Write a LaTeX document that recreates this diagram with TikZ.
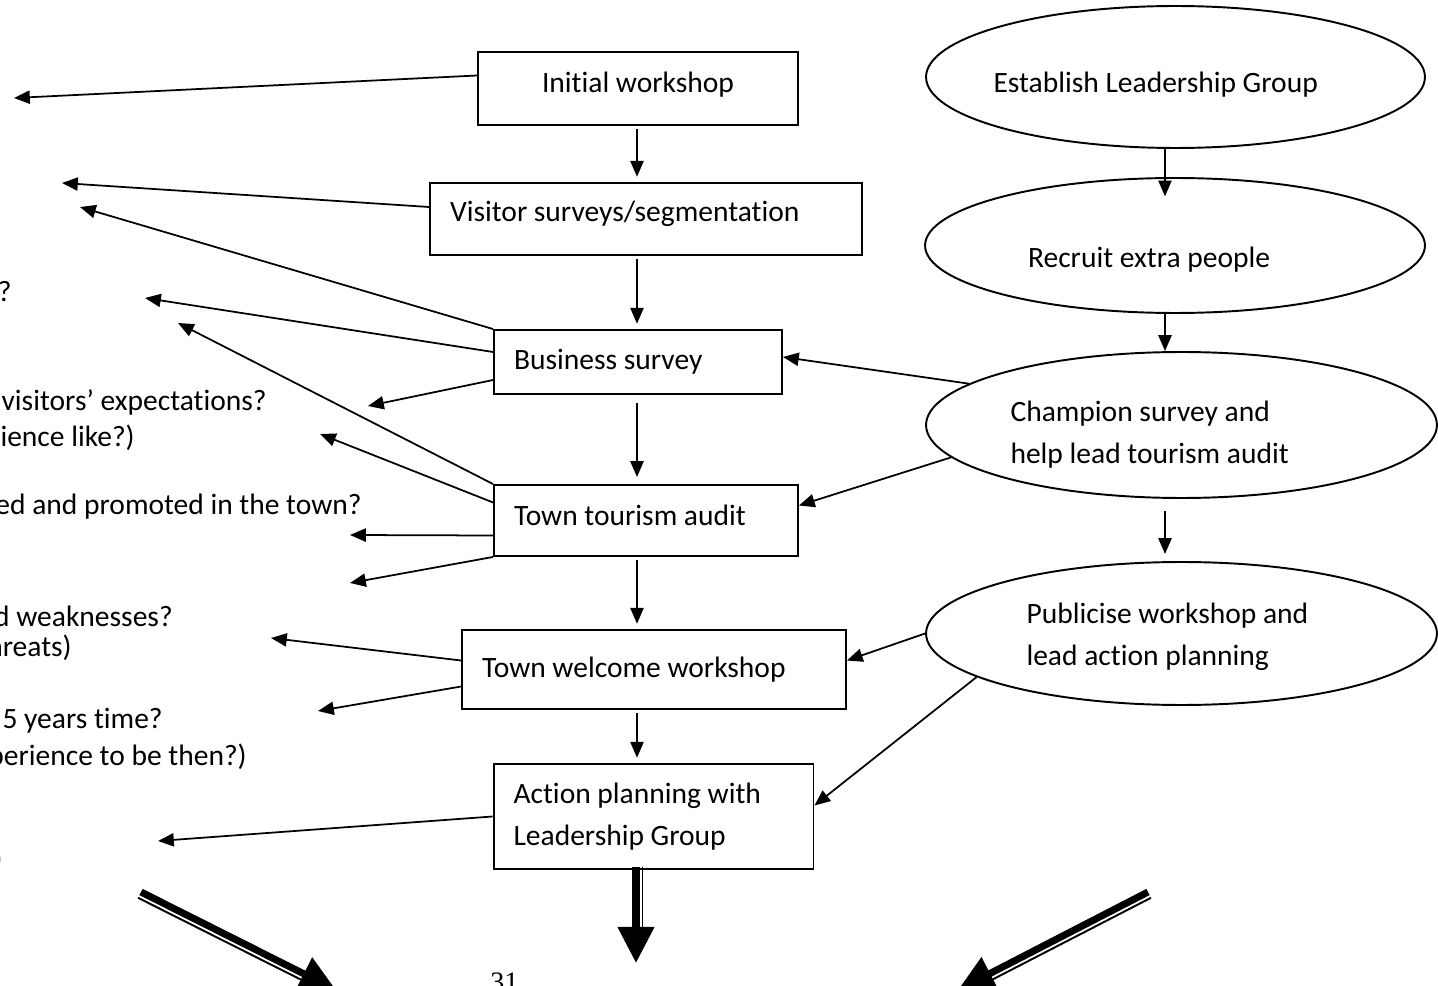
\documentclass[tikz,border=0pt]{standalone}
\usepackage{fontspec}
\setmainfont{Carlito}[Ligatures=NoCommon]
\newfontfamily\pagenumfont{Liberation Serif}
\usetikzlibrary{arrows.meta,positioning,calc,shapes.geometric}

\begin{document}
\begin{tikzpicture}[
      x=0.02cm,y=-0.02cm,
      font=\fontsize{16.8}{23.9}\selectfont,
      stepbox/.style={draw=black,line width=1.1pt,rectangle,align=flush left,inner xsep=0.4cm,inner ysep=0pt},
      leadell/.style={draw=black,line width=1.1pt,ellipse,align=flush left,inner xsep=-0.6cm,inner ysep=0pt},
      qtext/.style={anchor=east,inner sep=0pt},
      flow/.style={draw=black,line width=1pt,-{Triangle[length=9pt,width=7.5pt]}},
      vflow/.style={flow,shorten <=2pt,shorten >=3pt},
      bigshaft/.style={draw=black,line width=4pt,-{Triangle[length=20.5pt,width=20pt]}},
      thinshaft/.style={draw=black,line width=1.1pt}
    ]
    \useasboundingbox (0,0) rectangle (1438,986);

    \node[stepbox,minimum width=6.4cm,minimum height=1.46cm,align=flush center,text depth=7.5pt] (init) at (638,88.5) {Initial workshop};
    \node[stepbox,text width=7.84cm,minimum height=1.44cm,text depth=9pt] (visit) at (646,219) {Visitor surveys/segmentation};
    \node[stepbox,text width=4.96cm,minimum height=1.28cm] (bus) at (638,362) {Business survey};
    \node[stepbox,text width=5.28cm,minimum height=1.42cm,text depth=5.6pt] (audit) at (646,520.5) {Town tourism audit};
    \node[stepbox,text width=6.88cm,minimum height=1.58cm] (welc) at (654,669.5) {Town welcome workshop};
    \node[stepbox,text width=5.6cm,minimum height=2.1cm] (act) at (653.5,816.5) {Action planning with\\Leadership Group};

    \node[leadell,minimum width=9.98cm,minimum height=2.84cm,text width=7.28cm] (est) at (1175.5,77) {\rule{0pt}{20.4pt}Establish Leadership Group};
    \node[leadell,minimum width=10cm,minimum height=2.7cm,text width=5.88cm] (rec) at (1175,245.5) {\rule{0pt}{27.2pt}Recruit extra people};
    \node[leadell,minimum width=10.22cm,minimum height=2.92cm,text width=6.84cm] (champ) at (1181.5,425) {\rule{0pt}{22.4pt}Champion survey and\\help lead tourism audit};
    \node[leadell,minimum width=10.22cm,minimum height=2.86cm,text width=6.2cm] (pub) at (1181.5,633.5) {\rule{0pt}{15.8pt}Publicise workshop and\\lead action planning};

    \node[qtext] (qa) at (12,292) {?};
    \node[qtext] (qb) at (267,402) {visitors’ expectations?};
    \node[qtext] (qc) at (135,438) {rience like?)};
    \node[qtext] (qd) at (362,507) {ed and promoted in the town?};
    \node[qtext] (qe) at (173,616) {d weaknesses?};
    \node[qtext] (qf) at (72,648) {hreats)};
    \node[qtext] (qg) at (163,721) {5 years time?};
    \node[qtext] (qh) at (247,757) {perience to be then?)};
    \node[qtext] (qi) at (3,860) {)};

    \node[anchor=base west,inner sep=0pt,font=\pagenumfont\fontsize{16}{19}\selectfont] (pagenum) at (490,991) {31};

    \coordinate (cax) at (637,0);
    \coordinate (rax) at (1165,0);
    \coordinate (ask0) at (14,98);
    \coordinate (ask1) at (62,183);
    \coordinate (ask2) at (80,207);
    \coordinate (ask3) at (145,298);
    \coordinate (ask4) at (368,406);
    \coordinate (ask5) at (178,323);
    \coordinate (ask6) at (320,434);
    \coordinate (ask7) at (350,535);
    \coordinate (ask8) at (350,583);
    \coordinate (ask9) at (271,638);
    \coordinate (ask10) at (318,711);
    \coordinate (ask11) at (158,841);

    \path[vflow] (cax |- init.south) -- (cax |- visit.north);
    \path[vflow] (cax |- visit.south) -- (cax |- bus.north);
    \path[vflow,shorten <=4.5pt,shorten >=4pt] (cax |- bus.south) -- (cax |- audit.north);
    \path[vflow] (cax |- audit.south) -- (cax |- welc.north);
    \path[vflow] (cax |- welc.south) -- (cax |- act.north);

    \path[flow,shorten >=-11pt] (rax |- est.south) -- (rax |- rec.north);
    \path[flow] (rax |- rec.south) -- (rax |- champ.north);
    \path[flow,shorten <=7pt,shorten >=4pt] (rax |- champ.south) -- (rax |- pub.north);

    \path[flow] (champ.169) -- ($(bus.east)+(0,-5)$);
    \path[flow] (champ.188) -- ($(audit.east)+(0,-15)$);
    \path[flow] (pub.west) -- ($(welc.east)+(0,-9)$);
    \path[flow] (pub.192) -- ($(act.east)+(0,-11)$);

    \path[flow] ($(init.west)+(0,-13)$) -- (ask0);
    \path[flow] ($(visit.west)+(0,-12)$) -- (ask1);
    \path[flow] (bus.north west) -- (ask2);
    \path[flow] ($(bus.west)+(0,-10)$) -- (ask3);
    \path[flow] ($(bus.west)+(0,18)$) -- (ask4);
    \path[flow] (audit.north west) -- (ask5);
    \path[flow] ($(audit.west)+(0,-18)$) -- (ask6);
    \path[flow] ($(audit.west)+(0,15)$) -- (ask7);
    \path[flow] (audit.south west) -- (ask8);
    \path[flow] ($(welc.west)+(0,-9)$) -- (ask9);
    \path[flow] ($(welc.west)+(0,17)$) -- (ask10);
    \path[flow] (act.west) -- (ask11);

    \coordinate (ms) at ($(act.south)+(-17.5,-3)$);
    \coordinate (mt) at (636,963);
    \coordinate (mb) at ($(mt)!20.5pt!(ms)$);
    \coordinate (ls) at (141,892);
    \coordinate (lt) at (336,990);
    \coordinate (lb) at ($(lt)!20.5pt!(ls)$);
    \coordinate (rs) at (1148,892);
    \coordinate (rt) at (958,990);
    \coordinate (rb) at ($(rt)!20.5pt!(rs)$);

    \path[thinshaft] ($(ms)!3.7pt!90:(mt)$) -- ($(mb)!3.7pt!-90:(ms)$);
    \path[bigshaft] (ms) -- (mt);
    \path[thinshaft] ($(ls)!3.7pt!-90:(lt)$) -- ($(lb)!3.7pt!90:(ls)$);
    \path[bigshaft] (ls) -- (lt);
    \path[thinshaft] ($(rs)!3.7pt!90:(rt)$) -- ($(rb)!3.7pt!-90:(rs)$);
    \path[bigshaft] (rs) -- (rt);
  \end{tikzpicture}
\end{document}
